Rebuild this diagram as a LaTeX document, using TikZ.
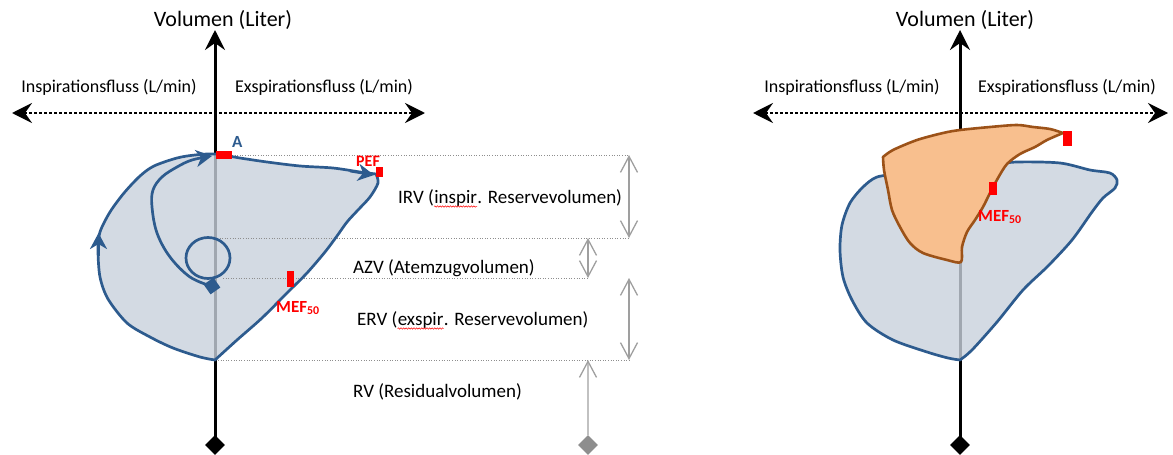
\documentclass[tikz,border=0pt]{standalone}
\usepackage{fontspec}
\setmainfont{Carlito}
\usetikzlibrary{arrows.meta,decorations.pathmorphing}
\definecolor{loopblue}{HTML}{2D5B8E}
\definecolor{loopfillc}{HTML}{C8D1DC}
\definecolor{orfill}{HTML}{F8BF8E}
\definecolor{orline}{HTML}{9C5218}
\definecolor{mred}{HTML}{FF0000}
\definecolor{gline}{HTML}{8E8E8E}
\tikzset{
  bigtip/.tip={Stealth[length=20pt,width=20pt,inset=7pt]},
  dimtip/.tip={Straight Barb[length=16pt,width=17pt]},
  looptip/.tip={Stealth[length=16pt,width=17pt,inset=5pt]},
  axisline/.style={line width=3pt, draw=black},
  flowline/.style={line width=2.6pt, draw=black, dash pattern=on 2.6pt off 2.4pt},
  dotline/.style={draw=gline, line width=0.9pt, dash pattern=on 1pt off 1.6pt},
  dimline/.style={draw=gline!85, line width=1.3pt},
  loopfill/.style={fill=loopfillc, fill opacity=0.8},
  loopline/.style={draw=loopblue, line width=2.7pt, line join=round},
  orangefill/.style={fill=orfill},
  orangeline/.style={draw=orline, line width=2.6pt, line join=round},
  redmark/.style={fill=mred, draw=none},
  titlelbl/.style={font=\fontsize{22}{24}\selectfont, inner sep=0pt},
  flowlbl/.style={font=\fontsize{18}{20}\selectfont, inner sep=0pt},
  vollbl/.style={font=\fontsize{19}{21}\selectfont, inner sep=0pt, anchor=base west},
  redlbl/.style={font=\bfseries\fontsize{16}{18}\selectfont, text=mred, inner sep=0pt, anchor=base west},
  bluelbl/.style={font=\bfseries\fontsize{17}{19}\selectfont, text=loopblue, inner sep=0pt, anchor=base west},
  diamondmark/.style={rectangle, rotate=45, minimum size=14pt, inner sep=0pt},
  wavy/.style={draw=mred, line width=0.5pt, decorate, decoration={snake, amplitude=0.7pt, segment length=2.6pt}}
}
\begin{document}
\begin{tikzpicture}[x=1pt,y=-1pt]
\useasboundingbox (0,0) rectangle (1173,455);

% ---------------- coordinates ----------------
\coordinate (Ltop) at (215,30);
\coordinate (Lbot) at (215,445);
\coordinate (Lleft) at (12,113);
\coordinate (Lright) at (425,113);
\coordinate (Rtop) at (960,30);
\coordinate (Rbot) at (960,445);
\coordinate (Rleft) at (753,113);
\coordinate (Rright) at (1168,113);

% ---------------- axes ----------------
\draw[axisline,-bigtip] (Lbot) -- (Ltop);
\draw[flowline,bigtip-bigtip] (Lleft) -- (Lright);
\draw[axisline,-bigtip] (Rbot) -- (Rtop);
\draw[flowline,bigtip-bigtip] (Rleft) -- (Rright);
\node[diamondmark, fill=black] (Ldia) at (Lbot) {};
\node[diamondmark, fill=black] (Rdia) at (Rbot) {};

% ---------------- axis labels ----------------
\node[titlelbl, anchor=base] (LtitleV) at (223,27) {Volumen (Liter)};
\node[flowlbl, anchor=base] (LinsP) at (109,92) {Inspirationsfluss (L/min)};
\node[flowlbl, anchor=base] (LexsP) at (324,92) {Exspirationsfluss (L/min)};
\node[titlelbl, anchor=base] (RtitleV) at (965,27) {Volumen (Liter)};
\node[flowlbl, anchor=base] (RinsP) at (852,92) {Inspirationsfluss (L/min)};
\node[flowlbl, anchor=base] (RexsP) at (1067,92) {Exspirationsfluss (L/min)};

% ---------------- left loop ----------------
\def\leftloop{plot[smooth, tension=0.5] coordinates {(215,360) (200,357) (173,348) (150,337) (127,323) (108,299) (100,277) (98,250) (100,232) (110,212) (124,193) (140,176) (154,166) (177,158) (195,155) (215,154) (240,158) (267,162) (300,166) (333,168) (360,172) (376,174)}
  -- plot[smooth, tension=0.5] coordinates {(376,174) (378,183) (370,197) (358,210) (347,222) (337,236) (325,252) (307,273) (287,293) (262,318) (237,340) (215,360)} -- cycle}
\fill[loopfill] \leftloop;

% volume levels
\coordinate (irvT) at (629,155);
\coordinate (irvB) at (629,238);
\coordinate (azvT) at (588,238);
\coordinate (azvB) at (588,278);
\coordinate (ervT) at (629,278);
\coordinate (ervB) at (629,360);
\coordinate (rvT) at (588,360);
\coordinate (rvB) at (588,445);
\coordinate (lvA) at (232,155);
\coordinate (lvB) at (217,238);
\coordinate (lvC) at (223,278);
\coordinate (lvD) at (218,360);
\draw[dotline] (lvA) -- (irvT);
\draw[dotline] (lvB) -- (irvB);
\draw[dotline] (lvC) -- (azvB);
\draw[dotline] (lvD) -- (ervB);

\draw[dimline,dimtip-dimtip] (irvT) -- (irvB);
\draw[dimline,dimtip-dimtip] (azvT) -- (azvB);
\draw[dimline,dimtip-dimtip] (ervT) -- (ervB);
\node[diamondmark, fill=gline] (rvdia) at (rvB) {};
\draw[dimline,-dimtip] (rvdia) -- (rvT);

\draw[loopline] \leftloop;
% inner inspiration curve
\draw[loopline,-looptip] plot[smooth, tension=0.6] coordinates {(211,286) (190,277) (170,257) (157,233) (152,207) (153,190) (162,177) (177,167) (192,160) (212,156)};
\draw[loopline] (208,258) ellipse [x radius=22, y radius=20.5];
\node[rectangle, rotate=35, minimum size=12pt, inner sep=0pt, fill=loopblue] (sq) at (212,286) {};
% direction arrows on the loop
\coordinate (upA) at (98.5,256);
\coordinate (upB) at (98.5,233);
\draw[loopline,-looptip] (upA) -- (upB);
\coordinate (pefA) at (350,171);
\coordinate (pefB) at (374,175);
\draw[loopline,-looptip] (pefA) -- (pefB);

% red marks and labels
\node[redlbl] (pef) at (356,166) {PEF};
\fill[redmark] (216,151) rectangle (232,159);
\fill[redmark] (376,167) rectangle (383,177);
\fill[redmark] (287,271) rectangle (294,287);
\node[bluelbl] (alab) at (232,147) {A};
\node[redlbl, font=\bfseries\fontsize{17}{19}\selectfont] (mefL) at (276,312) {MEF\textsubscript{50}};

% volume labels
\node[vollbl] (irv1) at (398,203) {IRV (};
\node[vollbl] (irv2) at (irv1.base east) {inspir};
\node[vollbl] (irv3) at (irv2.base east) {. Reservevolumen)};
\draw[wavy] ([yshift=-3.5pt]irv2.base west) -- ([yshift=-3.5pt]irv2.base east);
\node[vollbl] (azv) at (353,273) {AZV (Atemzugvolumen)};
\node[vollbl] (erv1) at (357,325) {ERV (};
\node[vollbl] (erv2) at (erv1.base east) {exspir};
\node[vollbl] (erv3) at (erv2.base east) {. Reservevolumen)};
\draw[wavy] ([yshift=-3.5pt]erv2.base west) -- ([yshift=-3.5pt]erv2.base east);
\node[vollbl] (rv) at (353,397) {RV (Residualvolumen)};

% ---------------- right loops ----------------
\def\rightloop{plot[smooth, tension=0.5] coordinates {(960,360) (948,358) (927,352) (893,340) (867,323) (852,300) (843,277) (840,250) (842,225) (850,203) (863,187) (877,177) (900,174) (930,171) (960,168) (990,165) (1017,162) (1060,163) (1090,170) (1110,173) (1117,180) (1115,188) (1103,198) (1092,212) (1072,240) (1048,266) (1023,290) (997,322) (972,350) (960,360)} -- cycle}
\fill[loopfill] \rightloop;
\draw[loopline] \rightloop;
\def\orangeloop{plot[smooth, tension=0.5] coordinates {(883,157) (893,150) (917,140) (943,133) (960,130) (990,127) (1017,125) (1033,127) (1050,129) (1063,133)}
  -- plot[smooth, tension=0.5] coordinates {(1063,133) (1047,140) (1035,147) (1020,154) (1007,164) (998,178) (990,193) (983,207) (975,220) (967,232) (962,247) (961,262) (947,260) (923,253) (910,243) (900,227) (892,210) (888,190) (884,170) (883,157)} -- cycle}
\fill[orangefill] \orangeloop;
\draw[orangeline] \orangeloop;
\fill[redmark] (1063,131) rectangle (1072,146);
\fill[redmark] (989,182) rectangle (997,195);
\node[redlbl, font=\bfseries\fontsize{17}{19}\selectfont] (mefR) at (978,221) {MEF\textsubscript{50}};
\end{tikzpicture}
\end{document}
